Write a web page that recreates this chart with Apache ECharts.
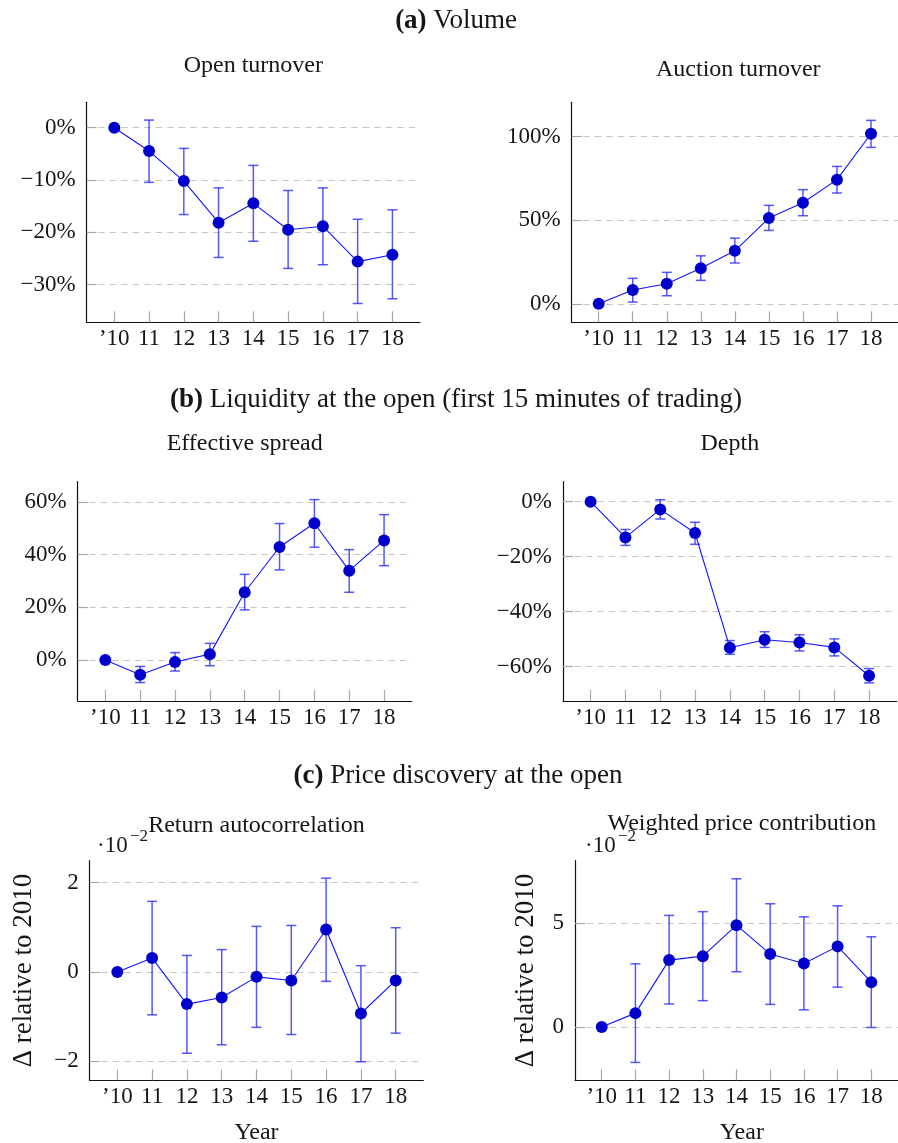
<!DOCTYPE html>
<html>
<head>
<meta charset="utf-8">
<script src="https://cdn.jsdelivr.net/npm/echarts@6/dist/echarts.min.js"></script>
<style>
html,body{margin:0;padding:0;background:#fff;}
#c{width:898px;height:1143px;}
</style>
</head>
<body>
<div id="c"></div>
<script>
// ---- data ----
const years = ["\u201910", "11", "12", "13", "14", "15", "16", "17", "18"];

const openTurnover   = [0, -4.46, -10.2, -18.15, -14.46, -19.5, -18.85, -25.6, -24.3];
const openTurnoverLo = [0, -10.45, -16.6, -24.8, -21.7, -26.9, -26.2, -33.6, -32.7];
const openTurnoverHi = [0, 1.46, -3.95, -11.5, -7.2, -12.0, -11.5, -17.5, -15.7];
const openTicks = [0, -10, -20, -30];

const auctionTurnover   = [0, 8.2, 12.0, 21.2, 31.7, 51.3, 60.5, 74.3, 101.8];
const auctionTurnoverLo = [0, 1.0, 4.8, 14.0, 24.4, 43.9, 52.7, 66.3, 93.6];
const auctionTurnoverHi = [0, 15.2, 18.8, 28.7, 39.3, 58.9, 68.3, 82.2, 109.8];
const auctionTicks = [0, 50, 100];

const effSpread   = [0, -5.6, -0.8, 2.2, 25.7, 42.9, 51.9, 33.9, 45.4];
const effSpreadLo = [0, -8.6, -4.2, -2.2, 19.0, 34.2, 42.8, 25.7, 35.8];
const effSpreadHi = [0, -2.5, 2.8, 6.3, 32.5, 51.8, 60.9, 41.9, 55.2];
const spreadTicks = [0, 20, 40, 60];

const depth   = [0, -13.0, -2.8, -11.4, -53.1, -50.2, -51.2, -53.0, -63.3];
const depthLo = [0, -15.9, -6.3, -15.5, -55.5, -53.0, -54.3, -56.1, -65.9];
const depthHi = [0, -10.1, 0.7, -7.5, -50.5, -47.3, -48.4, -49.9, -60.7];
const depthTicks = [0, -20, -40, -60];

const retAutocorr   = [0, 0.31, -0.72, -0.57, -0.11, -0.19, 0.95, -0.93, -0.19];
const retAutocorrLo = [0, -0.96, -1.82, -1.63, -1.24, -1.40, -0.21, -2.01, -1.37];
const retAutocorrHi = [0, 1.58, 0.37, 0.50, 1.02, 1.04, 2.10, 0.14, 0.99];
const autocorrTicks = [-2, 0, 2];

const wpc   = [0, 0.67, 3.22, 3.41, 4.90, 3.51, 3.06, 3.88, 2.16];
const wpcLo = [0, -1.70, 1.11, 1.27, 2.66, 1.09, 0.83, 1.92, -0.02];
const wpcHi = [0, 3.04, 5.37, 5.55, 7.13, 5.93, 5.30, 5.83, 4.34];
const wpcTicks = [0, 5];

// ---- styling / layout ----
const FONT = '"Liberation Serif", "Times New Roman", serif';
const LINE_C = '#1414ff';
const MARK_C = '#0000cc';
const ERR_C = 'rgba(40,40,255,0.78)';
const GRID_C = '#c6c6c6';
const TICK_C = '#a8a8a8';
const TXT_C = '#161616';

const panels = [
  {grid:{left:86.7, top:102.3, width:333.3, height:220}, y:[-37.2, 4.86], ticks:openTicks, pct:true, v:openTurnover, lo:openTurnoverLo, hi:openTurnoverHi},
  {grid:{left:571.7, top:102.3, width:333.3, height:220}, y:[-11.1, 120.6], ticks:auctionTicks, pct:true, v:auctionTurnover, lo:auctionTurnoverLo, hi:auctionTurnoverHi},
  {grid:{left:77.7, top:481.7, width:334, height:219.3}, y:[-15.6, 67.7], ticks:spreadTicks, pct:true, v:effSpread, lo:effSpreadLo, hi:effSpreadHi},
  {grid:{left:563, top:481.7, width:333.7, height:219.3}, y:[-72.5, 7.27], ticks:depthTicks, pct:true, v:depth, lo:depthLo, hi:depthHi},
  {grid:{left:89.7, top:860.7, width:333.6, height:219.6}, y:[-2.425, 2.49], ticks:autocorrTicks, pct:false, v:retAutocorr, lo:retAutocorrLo, hi:retAutocorrHi},
  {grid:{left:575, top:860.7, width:333.7, height:219.6}, y:[-2.56, 8.0], ticks:wpcTicks, pct:false, v:wpc, lo:wpcLo, hi:wpcHi}
];

const fmtNum = v => (v < 0 ? '\u2212' : '') + Math.abs(v);
const xIdx = years.map((_, i) => i);

const option = {
  animation: false,
  backgroundColor: '#fff',
  grid: panels.map(p => Object.assign({containLabel:false}, p.grid)),
  xAxis: panels.map((p, k) => ({
    type: 'value', gridIndex: k, min: -0.793, max: 8.793,
    axisLine: {show: true, onZero: false, lineStyle: {color: '#111', width: 1.2}},
    axisTick: {show: true, inside: true, length: 11, customValues: xIdx, lineStyle: {color: TICK_C, width: 1.2}},
    axisLabel: {show: true, customValues: xIdx, margin: 5, fontFamily: FONT, fontSize: 23, color: TXT_C,
      formatter: v => years[Math.round(v)]},
    splitLine: {show: false}
  })),
  yAxis: panels.map((p, k) => ({
    type: 'value', gridIndex: k, min: p.y[0], max: p.y[1],
    axisLine: {show: true, onZero: false, lineStyle: {color: '#111', width: 1.2}},
    axisTick: {show: true, inside: true, length: 10, customValues: p.ticks, lineStyle: {color: TICK_C, width: 1.2}},
    axisLabel: {show: true, customValues: p.ticks, margin: 11, fontFamily: FONT, fontSize: 23, color: TXT_C,
      formatter: v => fmtNum(v) + (p.pct ? '%' : '')},
    splitLine: {show: true, lineStyle: {color: GRID_C, width: 1.2, type: [6.5, 5]}}
  })),
  series: []
};

panels.forEach((p, k) => {
  option.series.push({
    type: 'custom', xAxisIndex: k, yAxisIndex: k, z: 2,
    data: xIdx.map(i => [i, p.lo[i], p.hi[i]]),
    encode: {x: 0, y: [1, 2]},
    renderItem: (params, api) => {
      const x = api.value(0), lo = api.value(1), hi = api.value(2);
      if (lo === hi) return null;
      const a = api.coord([x, lo]), b = api.coord([x, hi]);
      const c = 5;
      const st = {stroke: ERR_C, lineWidth: 1.5};
      return {type: 'group', children: [
        {type: 'line', shape: {x1: a[0], y1: a[1], x2: b[0], y2: b[1]}, style: st},
        {type: 'line', shape: {x1: a[0] - c, y1: a[1], x2: a[0] + c, y2: a[1]}, style: st},
        {type: 'line', shape: {x1: b[0] - c, y1: b[1], x2: b[0] + c, y2: b[1]}, style: st}
      ]};
    }
  });
  option.series.push({
    type: 'line', xAxisIndex: k, yAxisIndex: k, z: 3,
    data: xIdx.map(i => [i, p.v[i]]),
    symbol: 'circle', symbolSize: 12,
    lineStyle: {color: LINE_C, width: 1.1},
    itemStyle: {color: MARK_C, borderWidth: 0}
  });
});

const txt = (x, y, text, size, extra) => ({
  type: 'text', x: x, y: y,
  style: Object.assign({text: text, fontFamily: FONT, fontSize: size, fill: TXT_C, align: 'center', verticalAlign: 'middle'}, extra || {})
});

const heading = (x, y, tag, rest) => ({
  type: 'text', x: x, y: y,
  style: {text: '{b|' + tag + '} ' + rest, fontFamily: FONT, fontSize: 27, fill: TXT_C, align: 'center', verticalAlign: 'middle',
    rich: {b: {fontFamily: FONT, fontSize: 27, fontWeight: 'bold', fill: TXT_C}}}
});

option.graphic = [
  heading(456, 21, '(a)', 'Volume'),
  heading(456, 400, '(b)', 'Liquidity at the open (first 15 minutes of trading)'),
  heading(458, 776, '(c)', 'Price discovery at the open'),
  txt(253.3, 66, 'Open turnover', 24),
  txt(738.3, 70, 'Auction turnover', 24),
  txt(244.7, 444, 'Effective spread', 24),
  txt(729.8, 444, 'Depth', 24),
  txt(256.5, 826, 'Return autocorrelation', 24),
  txt(741.8, 824, 'Weighted price contribution', 24),
  txt(97, 846, '\u00b710', 23, {align: 'left'}),
  txt(130, 837, '\u22122', 17, {align: 'left'}),
  txt(585, 846, '\u00b710', 23, {align: 'left'}),
  txt(618, 837, '\u22122', 17, {align: 'left'}),
  Object.assign(txt(0, 0, '\u0394 relative to 2010', 27), {x: 24, y: 970.5, rotation: Math.PI / 2}),
  Object.assign(txt(0, 0, '\u0394 relative to 2010', 27), {x: 526, y: 970.5, rotation: Math.PI / 2}),
  txt(256.5, 1133, 'Year', 24),
  txt(741.8, 1133, 'Year', 24)
];

const chart = echarts.init(document.getElementById('c'), null, {renderer: 'canvas'});
chart.setOption(option);
</script>
</body>
</html>
